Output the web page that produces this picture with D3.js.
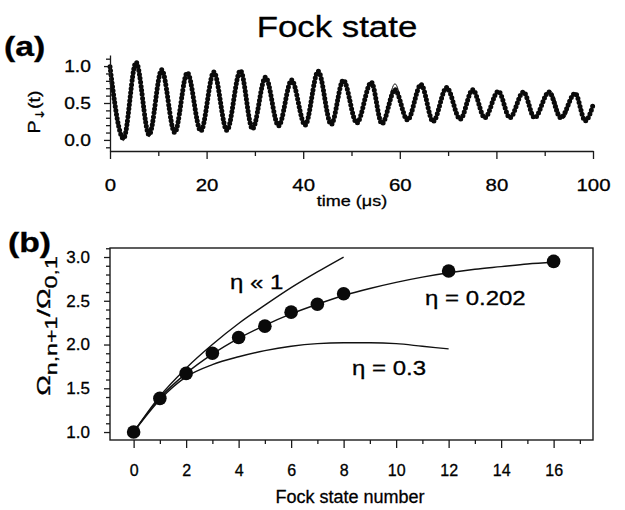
<!DOCTYPE html>
<html>
<head>
<meta charset="utf-8">
<script src="https://cdn.jsdelivr.net/npm/d3@7"></script>
<style>
  body { margin: 0; background: #fff; }
  svg { font-family: "Liberation Sans", Arial, sans-serif; }
  svg text { fill: #000; stroke: #000; stroke-width: 0.3; }
  .axis path, .axis line { stroke: #1a1a1a; stroke-width: 1.3; }
</style>
</head>
<body>
<script>
// ---- panel (a): P_down(t), turning points ----
var tMeas = [0, 2.8, 5.4, 8.1, 10.7, 13.4, 16.0, 18.8, 21.5, 24.2, 27.0, 29.5, 32.2, 34.9, 37.6, 40.4,
             43.1, 45.8, 48.3, 51.1, 54.1, 56.3, 59.0, 61.6, 64.4, 66.9, 69.7, 72.5, 75.1, 77.6,
             80.4, 82.8, 85.6, 87.9, 90.9, 93.3, 96.3, 98.4, 100];
var pMeas = [0.99, 0.02, 1.05, 0.07, 0.95, 0.10, 0.91, 0.12, 0.92, 0.13, 0.94, 0.15, 0.85, 0.19, 0.81, 0.20,
             0.93, 0.21, 0.81, 0.23, 0.78, 0.22, 0.68, 0.27, 0.75, 0.25, 0.71, 0.28, 0.68, 0.30,
             0.66, 0.30, 0.65, 0.30, 0.65, 0.30, 0.63, 0.26, 0.47];
// thin theory line (mostly hidden under the dots)
var tFit = [0, 2.8, 5.4, 8.1, 10.7, 13.4, 16.0, 18.8, 21.5, 24.2, 27.0, 29.5, 32.2, 34.9, 37.6, 40.4,
            43.1, 45.8, 48.3, 51.1, 54.1, 56.3, 59.0, 61.6, 64.4, 66.9, 69.7, 72.5, 75.1, 77.6,
            80.4, 82.8, 85.6, 87.9, 91.2, 93.8, 96.4, 98.6, 100];
var pFit = [1.0, -0.01, 1.03, 0.04, 0.95, 0.09, 0.91, 0.12, 0.92, 0.13, 0.93, 0.15, 0.85, 0.19, 0.81, 0.20,
            0.92, 0.21, 0.81, 0.23, 0.78, 0.22, 0.76, 0.26, 0.75, 0.25, 0.71, 0.28, 0.68, 0.30,
            0.66, 0.30, 0.65, 0.30, 0.66, 0.29, 0.64, 0.26, 0.46];

var aXTicks = [0, 20, 40, 60, 80, 100];
var aXMinor = [10, 30, 50, 70, 90];
var aYTicks = [0, 0.5, 1.0];
var aYMinor = [-0.1, 0.1, 0.2, 0.3, 0.4, 0.6, 0.7, 0.8, 0.9, 1.1];

// ---- panel (b): Rabi frequency ratio vs Fock state number ----
var fockN = [0, 1, 2, 3, 4, 5, 6, 7, 8, 12, 16];
var ratioMeas = [1.0, 1.385, 1.67, 1.90, 2.08, 2.21, 2.37, 2.46, 2.58, 2.84, 2.95];

var nEta0202 = [0, 1, 2, 3, 4, 5, 6, 7, 8, 9, 10, 11, 12, 13, 14, 15, 16];
var ratioEta0202 = [1.0, 1.39, 1.67, 1.89, 2.07, 2.22, 2.35, 2.46, 2.56, 2.64, 2.71, 2.77, 2.82, 2.86, 2.89, 2.92, 2.94];
var nEtaSmall = [0, 1, 2, 3, 4, 5, 6, 7, 8];
var ratioEtaSmall = [1.0, 1.41, 1.73, 2.0, 2.24, 2.45, 2.65, 2.83, 3.0];
var nEta03 = [0, 1, 2, 3, 4, 5, 6, 7, 8, 9, 10, 11, 12];
var ratioEta03 = [1.0, 1.37, 1.63, 1.77, 1.86, 1.93, 1.98, 2.01, 2.02, 2.02, 2.01, 1.98, 1.95];

var bXTicks = [0, 2, 4, 6, 8, 10, 12, 14, 16];
var bXMinor = [1, 3, 5, 7, 9, 11, 13, 15, 17];
var bYTicks = [1.0, 1.5, 2.0, 2.5, 3.0];
var bYMinor = [1.1, 1.2, 1.3, 1.4, 1.6, 1.7, 1.8, 1.9, 2.1, 2.2, 2.3, 2.4, 2.6, 2.7, 2.8, 2.9, 3.1];

var svg = d3.select("body").append("svg")
    .attr("width", 625)
    .attr("height", 510);

// scanned figure text is a little wider than Arial
function widen(sel, k) {
  sel.attr("transform", function() {
    var t = d3.select(this).attr("transform") || "";
    return t + " scale(" + k + ",1)";
  });
}

// title and panel letters
svg.append("text")
    .attr("transform", "translate(337,37) scale(1.2,1)")
    .attr("text-anchor", "middle")
    .style("font-size", "29px")
    .text("Fock state");
svg.append("text")
    .attr("transform", "translate(4,56) scale(1.25,1)")
    .style("font-size", "27px").style("font-weight", "bold")
    .text("(a)");
svg.append("text")
    .attr("transform", "translate(8,252) scale(1.25,1)")
    .style("font-size", "27px").style("font-weight", "bold")
    .text("(b)");

// ================= panel (a) =================
var xA = d3.scaleLinear().domain([0, 100]).range([110, 593]);
var yA = d3.scaleLinear().domain([-0.15, 1.15]).range([151, 55]);

var lineA = d3.line()
    .x(function(d) { return xA(d[0]); })
    .y(function(d) { return yA(d[1]); })
    .curve(d3.curveMonotoneX);

svg.append("path")
    .datum(d3.zip(tFit, pFit))
    .attr("fill", "none")
    .attr("stroke", "#111")
    .attr("stroke-width", 1)
    .attr("d", lineA);

// measured points: beaded thick line
svg.append("path")
    .datum(d3.zip(tMeas, pMeas))
    .attr("fill", "none")
    .attr("stroke", "#0a0a0a")
    .attr("stroke-width", 5)
    .attr("stroke-linecap", "round")
    .attr("stroke-dasharray", "0 4")
    .attr("d", lineA);

// axes (a)
svg.append("g").attr("class", "axis")
    .attr("transform", "translate(0,151)")
    .call(d3.axisBottom(xA).tickValues(aXMinor).tickSize(5).tickFormat("").tickSizeOuter(0))
    .select(".domain").remove();
var gxa = svg.append("g").attr("class", "axis")
    .attr("transform", "translate(0,151)")
    .call(d3.axisBottom(xA).tickValues(aXTicks).tickSize(8).tickPadding(20).tickSizeOuter(0));
gxa.selectAll("text").style("font-size", "17px");
widen(gxa.selectAll("text"), 1.2);

svg.append("g").attr("class", "axis")
    .attr("transform", "translate(110,0)")
    .call(d3.axisLeft(yA).tickValues(aYMinor).tickSize(4).tickFormat("").tickSizeOuter(0))
    .select(".domain").remove();
var gya = svg.append("g").attr("class", "axis")
    .attr("transform", "translate(110,0)")
    .call(d3.axisLeft(yA).tickValues(aYTicks).tickSize(6).tickPadding(10)
          .tickFormat(d3.format(".1f")).tickSizeOuter(0));
gya.selectAll("text").style("font-size", "16px");
widen(gya.selectAll("text"), 1.2);

svg.append("text")
    .attr("transform", "translate(352,206) scale(1.2,1)")
    .attr("text-anchor", "middle")
    .style("font-size", "15px")
    .text("time (\u03bcs)");

var pl = svg.append("text")
    .attr("transform", "translate(40,112) rotate(-90) scale(1.15,1)")
    .attr("text-anchor", "middle")
    .style("font-size", "17px");
pl.append("tspan").text("P");
pl.append("tspan").attr("dy", 4)
    .style("font-family", "'DejaVu Sans', sans-serif")
    .style("font-size", "12px").text("\u2193");
pl.append("tspan").attr("dy", -4).text("(t)");

// ================= panel (b) =================
var xB = d3.scaleLinear().domain([-0.9, 17.5]).range([110, 593]);
var yB = d3.scaleLinear().domain([0.909, 3.103]).range([440, 248]);

svg.append("rect")
    .attr("x", 110).attr("y", 248)
    .attr("width", 483).attr("height", 192)
    .attr("fill", "none")
    .attr("stroke", "#1a1a1a")
    .attr("stroke-width", 1.4);

var lineB = d3.line()
    .x(function(d) { return xB(d[0]); })
    .y(function(d) { return yB(d[1]); })
    .curve(d3.curveMonotoneX);

[[nEtaSmall, ratioEtaSmall], [nEta0202, ratioEta0202], [nEta03, ratioEta03]].forEach(function(s) {
  svg.append("path")
      .datum(d3.zip(s[0], s[1]))
      .attr("fill", "none")
      .attr("stroke", "#111")
      .attr("stroke-width", 1.4)
      .attr("d", lineB);
});

svg.selectAll(".fockdot")
    .data(d3.zip(fockN, ratioMeas))
  .enter().append("circle")
    .attr("class", "fockdot")
    .attr("r", 6.8)
    .attr("cx", function(d) { return xB(d[0]); })
    .attr("cy", function(d) { return yB(d[1]); })
    .attr("fill", "#0a0a0a");

// axes (b)
svg.append("g").attr("class", "axis")
    .attr("transform", "translate(0,440)")
    .call(d3.axisBottom(xB).tickValues(bXMinor).tickSize(4).tickFormat(""))
    .select(".domain").remove();
var gxb = svg.append("g").attr("class", "axis")
    .attr("transform", "translate(0,440)")
    .call(d3.axisBottom(xB).tickValues(bXTicks).tickSize(8).tickPadding(17));
gxb.select(".domain").remove();
gxb.selectAll("text").style("font-size", "16px");

svg.append("g").attr("class", "axis")
    .attr("transform", "translate(110,0)")
    .call(d3.axisLeft(yB).tickValues(bYMinor).tickSize(4).tickFormat(""))
    .select(".domain").remove();
var gyb = svg.append("g").attr("class", "axis")
    .attr("transform", "translate(110,0)")
    .call(d3.axisLeft(yB).tickValues(bYTicks).tickSize(6).tickPadding(14).tickFormat(d3.format(".1f")));
gyb.select(".domain").remove();
gyb.selectAll("text").style("font-size", "17px");

svg.append("text")
    .attr("x", 350).attr("y", 503)
    .attr("text-anchor", "middle")
    .style("font-size", "18px")
    .text("Fock state number");

var ol = svg.append("text")
    .attr("transform", "translate(50,326) rotate(-90) scale(1.45,1)")
    .attr("text-anchor", "middle")
    .style("font-size", "19px");
ol.append("tspan").text("\u03a9");
ol.append("tspan").attr("dy", 7).style("font-size", "16px").text("n,n+1");
ol.append("tspan").attr("dy", -7).text("/\u03a9");
ol.append("tspan").attr("dy", 7).style("font-size", "16px").text("0,1");

// curve labels
function note(xv, yv, str) {
  svg.append("text")
      .attr("transform", "translate(" + xB(xv) + "," + yB(yv) + ") scale(1.2,1)")
      .style("font-size", "20px")
      .text(str);
}
note(3.67, 2.63, "\u03b7 \u00ab 1");
note(11.1, 2.45, "\u03b7 = 0.202");
note(8.32, 1.65, "\u03b7 = 0.3");
</script>
</body>
</html>
